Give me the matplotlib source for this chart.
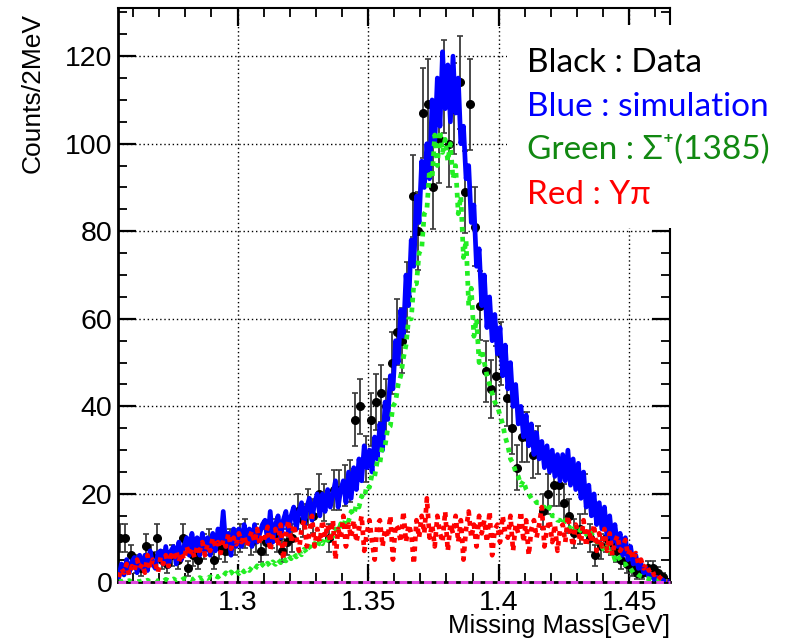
import numpy as np
import matplotlib
matplotlib.use("Agg")
import matplotlib.pyplot as plt
from matplotlib.patches import Rectangle

# data: 2 MeV bins, first bin centre 1.255 GeV
data_start, data_step = 1.255, 0.002
counts = [10, 10, 6, 4, 3, 8, 6, 10, 5, 4,
          6, 5, 10, 3, 6, 5, 8, 9, 5, 8,
          7, 9, 9, 10, 11, 9, 10, 7, 9, 11,
          10, 7, 9, 10, 16, 14, 17, 15, 20, 18,
          10, 21, 21, 22, 23, 37, 40, 28, 37, 41,
          43, 40, 50, 57, 55, 65, 88, 80, 107, 109,
          90, 101, 113, 100, 108, 114, 89, 109, 81, 63,
          48, 44, 47, 52, 42, 35, 26, 33, 33, 29,
          30, 16, 20, 22, 22, 18, 15, 11, 12, 20,
          10, 6, 8, 10, 9, 7, 5, 4, 3, 2,
          2, 3, 3, 2, 1, 0]

# simulation: 1 MeV steps, first point 1.2545 GeV
sim_start, sim_step = 1.2545, 0.001
sim_total = [1, 4, 1.5, 5, 2, 4.5, 5.5, 2, 6, 3,
             6, 2.5, 7, 4, 3, 6.5, 7, 4, 8, 3.5,
             7, 8, 4, 9, 5, 8, 10, 6, 11, 7,
             10, 6, 11, 7, 10, 6, 11, 7, 12, 9,
             16, 8, 11, 6, 12, 8, 12, 8, 13, 9,
             12, 8, 13, 9, 11, 13, 14, 9, 16, 9,
             13, 15, 10, 14, 16, 11, 15, 17, 12, 16,
             18, 13, 17, 19, 14, 18, 20, 15, 20, 16,
             21, 17, 20, 23, 17, 21, 23, 18, 25, 19,
             26, 21, 28, 23, 31, 26, 30, 25, 33, 28,
             36, 30, 41, 37, 47, 44, 55, 50, 62, 56,
             70, 63, 78, 72, 88, 82, 96, 90, 100, 92,
             110, 100, 115, 104, 121, 108, 118, 105, 120, 107,
             115, 100, 104, 92, 95, 82, 86, 72, 76, 63,
             70, 58, 65, 55, 61, 52, 58, 47, 54, 44,
             50, 40, 45, 36, 40, 33, 38, 31, 36, 29,
             34, 28, 32, 26, 31, 25, 30, 24, 29, 23,
             29, 23, 30, 22, 28, 21, 27, 19, 25, 17,
             22, 15, 20, 13, 18, 12, 17, 10, 15, 9,
             13, 8, 11, 6, 10, 5, 8, 4, 6, 3,
             4, 2, 3, 1, 1.5, 0.5, 1, 0, 0.5, 0, 0]

sim_sigma = [0, 0, 0.3, 0, 0.2, 0, 0.3, 0, 0, 0.2,
             0, 0.3, 0, 0.2, 0.4, 0, 0.3, 0, 0.5, 0.2,
             0.3, 0.6, 0.2, 0.5, 0.3, 0.7, 0.4, 0.6, 0.3, 0.8,
             0.5, 0.9, 0.6, 1, 0.7, 1.1, 0.8, 1.3, 1, 1.5,
             1.2, 2, 1.4, 2.2, 1.6, 2.5, 1.8, 2.8, 2.2, 3,
             2.5, 3.3, 2.7, 3.6, 3, 3.9, 3.2, 4.2, 3.5, 4.5,
             3.9, 5, 4.3, 5.4, 4.7, 5.9, 5.2, 6.4, 5.6, 6.9,
             6.1, 7.4, 6.6, 8, 7.2, 8.7, 7.8, 9.4, 8.6, 10.2,
             9.4, 11, 10.3, 12, 11.3, 13.2, 12.5, 14.5, 13.8, 16,
             15.2, 17.6, 17, 19.5, 19, 22, 21.5, 24.5, 24, 27.5,
             27, 31, 31, 35, 35.5, 40, 41, 45, 47, 51,
             54, 60, 60, 68, 68, 75, 76, 84, 85, 94,
             92, 102, 95, 103, 98, 101, 96, 100, 92, 95,
             84, 88, 74, 78, 63, 67, 56, 60, 50, 53,
             50, 47, 45, 43, 41, 40, 38, 36, 33, 31,
             28, 27, 25, 24, 22, 23, 21, 20, 19, 19,
             18, 18, 17, 17, 16, 17, 15, 15, 14, 14,
             13, 14, 13, 12, 13, 12, 11, 12, 11, 11,
             10, 11, 10, 9, 9, 8, 7, 8, 6, 7,
             5, 6, 5, 4, 4, 3, 3, 2, 2, 1.5,
             1.2, 1, 0.8, 0.6, 0.5, 0.4, 0.3, 0.2, 0.1, 0, 0]

sim_ypi = [1, 3, 2, 4, 1.5, 3.5, 2.5, 5, 3, 4,
           2, 6, 3, 5, 4, 2, 5.5, 4, 6, 3.5,
           6, 5, 7, 4.5, 6.5, 5, 8, 6, 7.5, 5.5,
           8, 7, 9, 6, 8.5, 7, 10, 8, 9, 6.5,
           9.5, 8, 11, 7.5, 10, 8.5, 11, 9, 10.5, 8,
           10, 11.5, 9, 12, 8.5, 11, 10, 12.5, 7, 10.5,
           12, 8, 13, 5, 11, 14, 9, 13, 10, 7,
           12, 14, 8, 11, 15, 8, 12, 9, 14, 10,
           13, 9, 14, 5, 12, 10, 15, 8, 13, 10,
           14, 9, 12, 15, 7, 11, 14, 9, 5, 13,
           14, 8, 12, 10, 15, 5, 13, 12, 9, 16,
           9, 13, 11, 4, 14, 10, 15, 11, 19, 10,
           13, 8, 15, 11, 9, 16, 7, 13, 11, 15,
           9, 14, 5, 12, 16, 10, 13, 8, 15, 11,
           14, 9, 16, 6, 12, 13, 9, 15, 11, 10,
           15, 7, 13, 11, 16, 9, 14, 6, 12, 14,
           10, 13, 17, 8, 12, 14, 9, 13, 7, 12,
           13, 9, 15, 11, 8, 13, 11, 9, 14, 8,
           12, 9, 13, 7, 11, 8, 12, 7, 11, 6,
           9, 10.5, 7, 8, 9.5, 6, 7.5, 5, 6.5, 4,
           5, 3, 4, 2.5, 3, 1.5, 2, 1, 0.5, 0.3, 0]

xtick_vals = [1.3, 1.35, 1.4, 1.45]
xtick_labels = ["1.3", "1.35", "1.4", "1.45"]
ytick_vals = [0, 20, 40, 60, 80, 100, 120]

legend_lines = ["Black : Data", "Blue : simulation", "Green : Σ⁺(1385)", "Red : Yπ"]
legend_colors = ["black", "#0000ff", "#118811", "#ff0000"]

x_data = data_start + data_step * np.arange(len(counts))
y_data = np.array(counts, dtype=float)
x_sim = sim_start + sim_step * np.arange(len(sim_total))

fig = plt.figure(figsize=(7.88, 6.4), dpi=100)
ax = fig.add_axes([118 / 788, 1 - 581.5 / 640, (670 - 118) / 788, (581.5 - 8) / 640])

ax.errorbar(x_data, y_data, yerr=np.sqrt(y_data), fmt="o", color="black",
            ecolor="#3a3a3a", elinewidth=1.3, capsize=2, capthick=1.2,
            markersize=5.5, zorder=2)
ax.plot(x_sim, sim_total, color="#0000ff", lw=3.4, zorder=3)
ax.plot(x_sim, sim_sigma, color="#22ee22", lw=3.4, ls=(0, (1, 1.1)), zorder=4)
ax.plot(x_sim, sim_ypi, color="#ff0000", lw=3.4, ls=(0, (1, 1.1)), zorder=5)
ax.axhline(0, color="#dd44dd", lw=2.2, ls=(0, (2.5, 1.5)), clip_on=False, zorder=6)

ax.set_xlim(1.2542, 1.4656)
ax.set_ylim(0, 131)
ax.set_xticks(xtick_vals, xtick_labels)
ax.set_yticks(ytick_vals)
ax.set_xticks(np.arange(1.26, 1.466, 0.01), minor=True)
ax.set_yticks(np.arange(0, 131, 5), minor=True)
ax.tick_params(which="major", direction="in", length=13, width=1.6,
               top=True, right=True, labelsize=20.5)
ax.tick_params(which="minor", direction="in", length=6.5, width=1.3,
               top=True, right=True)
ax.tick_params(axis="x", pad=6)
ax.tick_params(axis="y", pad=4)
for lab in ax.get_xticklabels() + ax.get_yticklabels():
    lab.set_family("Liberation Sans")
for s in ["left", "bottom"]:
    ax.spines[s].set_linewidth(2)
for s in ["top", "right"]:
    ax.spines[s].set_linewidth(1.5)
ax.grid(True, which="major", color="black", lw=1, ls=(0, (1, 2)))

fig.text(33 / 788, 1 - 13 / 640, "Counts/2MeV", rotation=90, ha="center", va="top",
         fontsize=19, family="Liberation Sans")
fig.text(670 / 788, 1 - 633 / 640, "Missing Mass[GeV]", ha="right", va="baseline",
         fontsize=18.5, family="Liberation Sans")

fig.patches.append(Rectangle((507 / 788, 1 - 228 / 640), 280 / 788, 203 / 640,
                             transform=fig.transFigure, facecolor="white",
                             edgecolor="none", zorder=1))
baselines = [71.5, 115.5, 159.5, 203.5]
for txt, col, yb in zip(legend_lines, legend_colors, baselines):
    fig.text(527 / 788, 1 - yb / 640, txt, color=col, fontsize=24,
             family=["Lato", "DejaVu Sans"], ha="left", va="baseline", zorder=3)

fig.savefig("out.png", dpi=100)
